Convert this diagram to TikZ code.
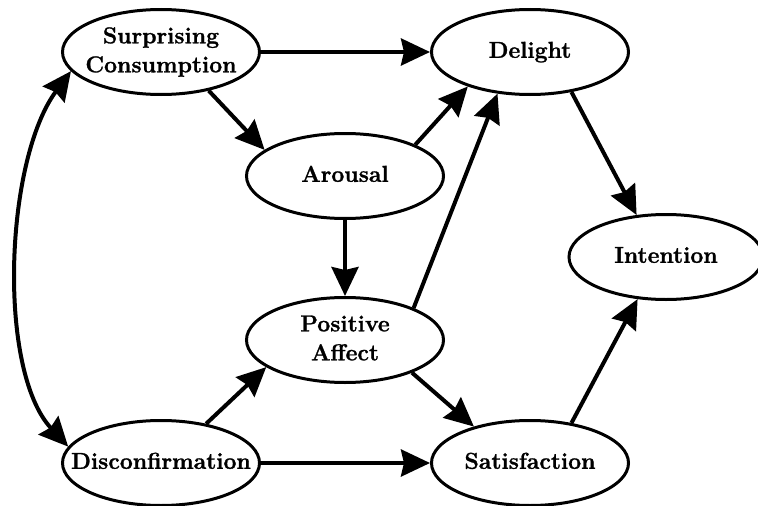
\documentclass[tikz,border=0pt]{standalone}
\usepackage{fontspec}
\setmainfont{Latin Modern Roman}[BoldFeatures={FakeBold=1.2}]
\usetikzlibrary{shapes.geometric,arrows.meta}
\newcommand{\ctxt}[1]{\makebox[0pt][c]{\begin{tabular}{@{}c@{}}#1\end{tabular}}}
\begin{document}
\begin{tikzpicture}[x=1pt,y=-1pt,
  ell/.style={ellipse,draw,line width=3pt,minimum width=197pt,minimum height=85pt,inner sep=0pt,
    font=\fontsize{23}{29}\selectfont\bfseries},
  arr/.style={line width=4pt,-{Stealth[length=29pt,width=27pt,inset=3pt]}},
  darr/.style={line width=4pt,{Stealth[length=29pt,width=27pt,inset=3pt]}-{Stealth[length=29pt,width=27pt,inset=3pt]}}]
\useasboundingbox (0,0) rectangle (758,506);
\node[ell] (S) at (161,52) {\ctxt{Surprising\\Consumption}};
\node[ell] (D) at (530,52) {\ctxt{Delight}};
\node[ell] (A) at (345,176) {\ctxt{Arousal}};
\node[ell] (P) at (345,340) {\ctxt{Positive\\Affect}};
\node[ell] (C) at (161,463) {\ctxt{Disconfirmation}};
\node[ell] (F) at (530,463) {\ctxt{Satisfaction}};
\node[ell,minimum width=194pt] (I) at (666,257) {\ctxt{Intention}};
\draw[arr] (S.0) -- (D.180);
\draw[arr] (S.-39) -- (A.162);
\draw[arr] (A.24) -- (D.209);
\draw[arr] (P.25) -- (D.232);
\draw[arr] (D.-44) -- (I.125);
\draw[arr] (A.south) -- (P.north);
\draw[arr] (C.41) -- (P.199);
\draw[arr] (P.-26) -- (F.147);
\draw[arr] (C.0) -- (F.180);
\draw[arr] (F.44) -- (I.236);
\draw[darr] (S.192) .. controls (5,160) and (-3,370) .. (C.170);
\end{tikzpicture}
\end{document}
